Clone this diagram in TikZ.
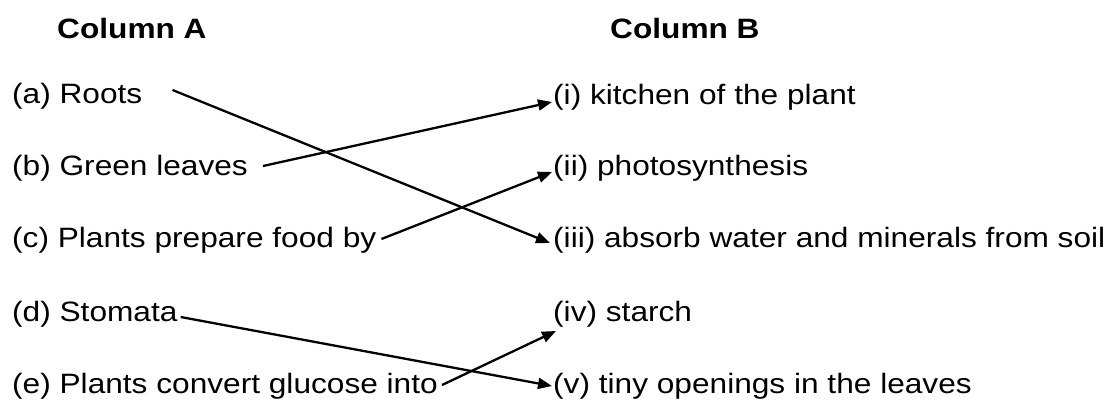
\documentclass[tikz,border=0pt]{standalone}
\usepackage{fontspec}
\setmainfont{Liberation Sans}[FakeStretch=1.13]
\usetikzlibrary{arrows.meta}
\tikzstyle{item}=[anchor=base west, inner sep=0pt, font=\fontsize{28}{32}\selectfont]
\tikzstyle{head}=[item, font=\fontsize{28}{32}\selectfont\bfseries]
\tikzstyle{match}=[line width=2.3pt, -{Triangle[length=14pt,width=11pt]}]

\begin{document}
\begin{tikzpicture}[x=1pt,y=-1pt]
	\useasboundingbox (0,0) rectangle (1112,402);

	\node[head](colA) at (57,38){Column A};
	\node[head](colB) at (610,38){Column B};

	% column A
	\node[item](a) at (12,103){(a) Roots};
	\node[item](b) at (12,175){(b) Green leaves};
	\node[item](c) at (12,247){(c) Plants prepare food by};
	\node[item](d) at (12,321){(d) Stomata};
	\node[item](e) at (12,393){(e) Plants convert glucose into};

	% column B
	\node[item](i) at (553,104){(i) kitchen of the plant};
	\node[item](ii) at (553,175){(ii) photosynthesis};
	\node[item](iii) at (553,247){(iii) absorb water and minerals from soil};
	\node[item](iv) at (553,321){(iv) starch};
	\node[item](v) at (553,393){(v) tiny openings in the leaves};

	\draw[match] ([xshift=30pt,yshift=13pt]a.base east) -- ([xshift=-3pt,yshift=4pt]iii.base west);
	\draw[match] ([xshift=15pt,yshift=9pt]b.base east) -- ([xshift=-1pt,yshift=2pt]i.base west);
	\draw[match] ([xshift=5pt,yshift=8pt]c.base east) -- ([xshift=-1pt,yshift=3pt]ii.base west);
	\draw[match] ([xshift=3pt,yshift=4pt]d.base east) -- ([xshift=-1pt,yshift=7pt]v.base west);
	\draw[match] ([xshift=4pt,yshift=8pt]e.base east) -- ([xshift=3pt,yshift=-10pt]iv.base west);
\end{tikzpicture}
\end{document}
